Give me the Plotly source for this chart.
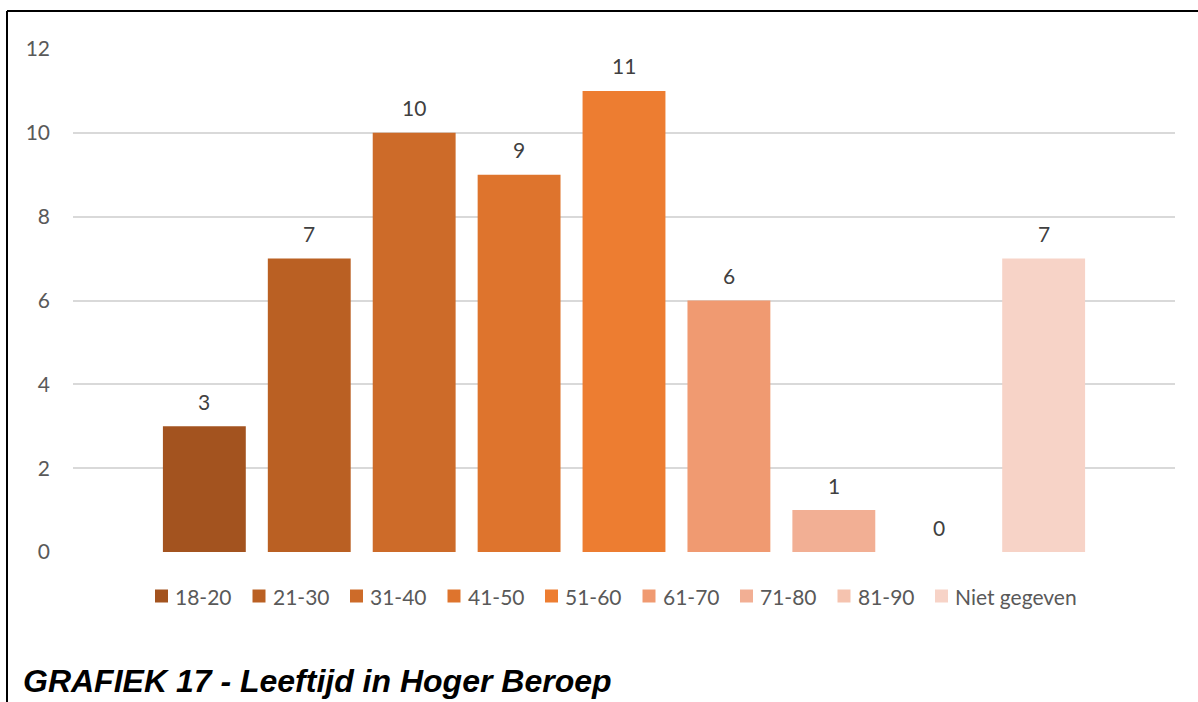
import plotly.graph_objects as go

# Age groups and counts
categories = ["18-20", "21-30", "31-40", "41-50", "51-60", "61-70", "71-80", "81-90", "Niet gegeven"]
counts = [3, 7, 10, 9, 11, 6, 1, 0, 7]
colors = ["#A3531F", "#BA6023", "#CD6B29", "#DE742D", "#ED7D31",
          "#F09A71", "#F2AF94", "#F5C3AF", "#F7D3C7"]
y_ticks = [0, 2, 4, 6, 8, 10, 12]
title_text = "GRAFIEK 17 - Leeftijd in Hoger Beroep"

W, H = 1198, 702
L, R, T, B = 73, 23, 49, 150
plot_w, plot_h = W - L - R, H - T - B

LABEL_FONT = "Lato, Open Sans, sans-serif"


def px_x(p):
    return (p - L) / plot_w


def px_y(p):
    return (H - B - p) / plot_h


fig = go.Figure()
for i, (cat, val, col) in enumerate(zip(categories, counts, colors)):
    fig.add_trace(go.Bar(
        x=[i], y=[val], name=cat, width=0.79,
        marker=dict(color=col, line=dict(width=0)),
        hoverinfo="name+y",
    ))
    fig.add_annotation(
        x=i, y=val, text=str(val), showarrow=False,
        yanchor="middle", yshift=25,
        font=dict(family=LABEL_FONT, size=21, color="#404040"),
    )

# Legend row below the bars: a colour swatch followed by the group name
legend_left, legend_pitch, legend_mid, swatch = 155, 97.5, 596, 13
for i, (cat, col) in enumerate(zip(categories, colors)):
    x0 = legend_left + i * legend_pitch
    fig.add_shape(type="rect", xref="paper", yref="paper",
                  x0=px_x(x0), x1=px_x(x0 + swatch),
                  y0=px_y(legend_mid - swatch / 2), y1=px_y(legend_mid + swatch / 2),
                  fillcolor=col, line=dict(width=0))
    fig.add_annotation(
        xref="paper", yref="paper", x=px_x(x0 + swatch + 5), y=px_y(legend_mid),
        xanchor="left", yanchor="middle", showarrow=False, text=cat,
        font=dict(family=LABEL_FONT, size=21, color="#595959"),
    )

# Frame lines along the left and top edge
fig.add_shape(type="line", xref="paper", yref="paper",
              x0=px_x(7), x1=px_x(W + 5), y0=px_y(11), y1=px_y(11),
              line=dict(color="black", width=2))
fig.add_shape(type="line", xref="paper", yref="paper",
              x0=px_x(7), x1=px_x(7), y0=px_y(11), y1=px_y(H + 5),
              line=dict(color="black", width=2))

fig.add_annotation(
    xref="paper", yref="paper", x=px_x(21), y=px_y(681),
    xanchor="left", yanchor="middle", showarrow=False,
    text="<b><i>" + title_text + "</i></b>",
    font=dict(family="Liberation Sans, Arial, sans-serif", size=32, color="black"),
)

fig.update_layout(
    width=W, height=H,
    margin=dict(l=L, r=R, t=T, b=B, pad=0),
    paper_bgcolor="white", plot_bgcolor="white",
    barmode="overlay",
    showlegend=False,
    xaxis=dict(
        range=[-1.252, 9.252], showticklabels=False, showgrid=False,
        zeroline=False, showline=False, ticks="", fixedrange=True,
    ),
    yaxis=dict(
        range=[0, 12], tickvals=y_ticks, showgrid=True,
        gridcolor="#D9D9D9", gridwidth=1.5, zeroline=False, showline=False,
        ticks="", ticklabelstandoff=22,
        tickfont=dict(family=LABEL_FONT, size=21, color="#595959"),
    ),
)

fig.write_html("out.html")
